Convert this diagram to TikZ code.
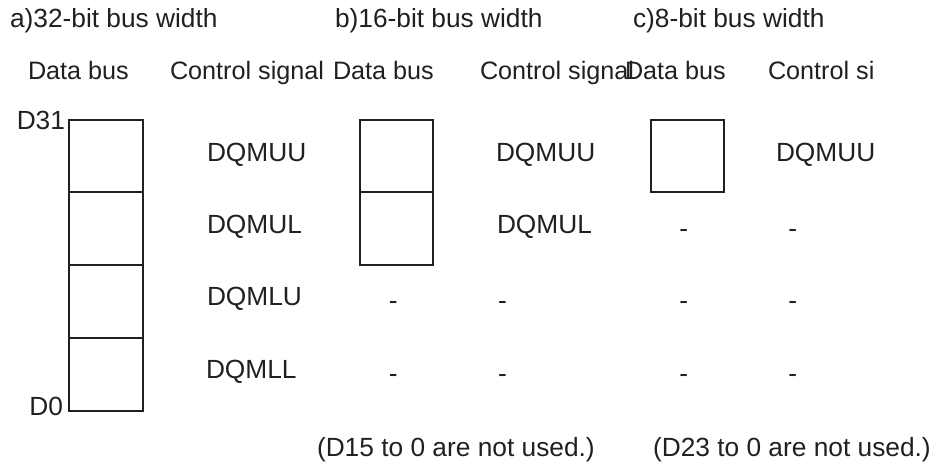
\documentclass[tikz,border=0pt]{standalone}
\usepackage{fontspec}
\setmainfont{Liberation Sans}
\definecolor{ink}{RGB}{35,31,32}
\begin{document}
\begin{tikzpicture}[x=1pt,y=-1pt,
  txt/.style={inner sep=0pt,outer sep=0pt,text=ink,font=\fontsize{26.3}{30}\selectfont},
  hdr/.style={txt,anchor=base west,font=\fontsize{25.2}{30}\selectfont},
  lbl/.style={txt,anchor=base west},
  dsh/.style={txt,anchor=base},
  cell/.style={draw=ink,line width=2pt,inner sep=0pt,minimum width=73.5pt,minimum height=72.8pt}]
\useasboundingbox (0,0) rectangle (938,470);
% titles
\node[lbl] (ta) at (10,27.3) {a)32-bit bus width};
\node[lbl] (tb) at (335,27.3) {b)16-bit bus width};
\node[lbl] (tc) at (633,27.3) {c)8-bit bus width};
% column headers (clipped at the bottom as in the reference)
\begin{scope}
\clip (0,40) rectangle (938,84.3);
\node[hdr] (hda) at (28,80) {Data bus};
\node[hdr] (hca) at (170,80) {Control signal};
\node[hdr] (hdb) at (333,80) {Data bus};
\node[hdr] (hcb) at (480,80) {Control signal};
\node[hdr] (hdc) at (625,80) {Data bus};
\node[hdr] (hcc) at (768,80) {Control si};
\end{scope}
% a) 32-bit cells
\node[cell] (a1) at (106,156.1) {};
\node[cell] (a2) at (106,228.9) {};
\node[cell] (a3) at (106,301.7) {};
\node[cell] (a4) at (106,374.5) {};
\node[txt,anchor=base east] (d31) at (65,129.3) {D31};
\node[txt,anchor=base east] (d0) at (63,415.5) {D0};
\node[lbl] (qa1) at (207,161.5) {DQMUU};
\node[lbl] (qa2) at (207,233.3) {DQMUL};
\node[lbl] (qa3) at (207,306) {DQMLU};
\node[lbl] (qa4) at (206,378.5) {DQMLL};
% b) 16-bit cells
\node[cell] (b1) at (396.6,156.1) {};
\node[cell] (b2) at (396.6,228.9) {};
\node[lbl] (qb1) at (496,161.7) {DQMUU};
\node[lbl] (qb2) at (497,233.3) {DQMUL};
\node[dsh] (xb3) at (393.3,309.3) {-};
\node[dsh] (yb3) at (502.5,309.3) {-};
\node[dsh] (xb4) at (393.3,382.3) {-};
\node[dsh] (yb4) at (502.5,382.3) {-};
% c) 8-bit cell
\node[cell] (c1) at (687.3,156.1) {};
\node[lbl] (qc1) at (776,161.7) {DQMUU};
\node[dsh] (xc2) at (683.7,237.7) {-};
\node[dsh] (yc2) at (792.7,237.7) {-};
\node[dsh] (xc3) at (683.7,309.3) {-};
\node[dsh] (yc3) at (792.7,309.3) {-};
\node[dsh] (xc4) at (683.7,382.3) {-};
\node[dsh] (yc4) at (792.7,382.3) {-};
% notes
\node[lbl] (nb) at (317,456.5) {(D15 to 0 are not used.)};
\node[lbl] (nc) at (653,456.5) {(D23 to 0 are not used.)};
\end{tikzpicture}
\end{document}
